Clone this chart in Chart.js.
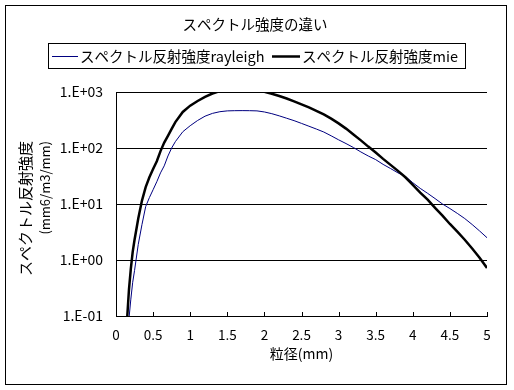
<!DOCTYPE html>
<html>
<head>
<meta charset="utf-8">
<script src="https://cdn.jsdelivr.net/npm/chart.js@4.4.0/dist/chart.umd.min.js"></script>
<style>
  html, body { margin: 0; padding: 0; background: #fff; }
  #wrap { width: 514px; height: 390px; }
</style>
</head>
<body>
<div id="wrap"><canvas id="chart" width="514" height="390"></canvas></div>
<script>
// --- datos ---
const chartTitle = 'スペクトル強度の違い';
const seriesNames = ['スペクトル反射強度rayleigh', 'スペクトル反射強度mie'];
const xTitle = '粒径(mm)';
const yTitle = ['スペクトル反射強度', '(mm6/m3/mm)'];

const diameters = [0.15, 0.175, 0.2, 0.225, 0.25, 0.3, 0.35, 0.4, 0.45, 0.5, 0.55, 0.6, 0.65, 0.7, 0.75, 0.8, 0.9,
  1.0, 1.1, 1.2, 1.3, 1.4, 1.5, 1.6, 1.7, 1.8, 1.9, 2.0, 2.1, 2.2, 2.3, 2.4, 2.5, 2.6, 2.7, 2.8, 2.9,
  3.0, 3.1, 3.2, 3.3, 3.4, 3.5, 3.6, 3.7, 3.8, 3.9, 4.0, 4.1, 4.2, 4.3, 4.4, 4.5, 4.6, 4.7, 4.8, 4.9, 5.0];

const rayleigh = [0.03, 0.09, 0.2, 0.4, 0.65, 1.9, 4.3, 9, 13, 18, 25, 36, 48, 72, 100, 130, 195,
  250, 310, 370, 415, 445, 460, 464, 465, 464, 460, 440, 410, 375, 340, 308, 275, 245, 218, 193, 165,
  140, 120, 102, 85, 72, 62, 51, 43, 36, 31, 24, 19, 15.5, 12.5, 10, 8.3, 6.8, 5.5, 4.3, 3.3, 2.5];

const mie = [0.09, 0.3, 0.7, 1.4, 2.3, 5.5, 11.5, 20, 30, 42, 58, 88, 125, 165, 220, 290, 440,
  570, 690, 820, 940, 1040, 1100, 1130, 1140, 1120, 1070, 1005, 930, 850, 765, 680, 600, 530, 462, 398, 335,
  275, 222, 175, 137, 106, 83, 64, 50, 39, 30, 22, 16, 12, 8.5, 6.2, 4.4, 3.2, 2.3, 1.6, 1.1, 0.72];

const xTickValues = [0, 0.5, 1, 1.5, 2, 2.5, 3, 3.5, 4, 4.5, 5];
const xTickLabels = ['0', '0.5', '1', '1.5', '2', '2.5', '3', '3.5', '4', '4.5', '5'];
const yTickValues = [0.1, 1, 10, 100, 1000];
const yTickLabels = ['1.E-01', '1.E+00', '1.E+01', '1.E+02', '1.E+03'];

const FONT = '"Noto Sans CJK JP", "Noto Sans", sans-serif';
Chart.defaults.font.family = FONT;
Chart.defaults.color = '#000';

function toPoints(values) {
  return diameters.map((d, i) => ({ x: d, y: values[i] }));
}

// marco, título, leyenda con borde, título del eje Y y marcas interiores
const decorPlugin = {
  id: 'decor',
  beforeDraw(chart) {
    const ctx = chart.ctx;
    ctx.save();
    ctx.fillStyle = '#fff';
    ctx.fillRect(0, 0, chart.width, chart.height);
    ctx.restore();
  },
  afterDraw(chart) {
    const ctx = chart.ctx;
    ctx.save();
    ctx.strokeStyle = '#000';
    ctx.lineWidth = 1;
    ctx.strokeRect(5.5, 5.5, 501, 379);

    // título
    ctx.fillStyle = '#000';
    ctx.font = '14.5px ' + FONT;
    ctx.textAlign = 'center';
    ctx.textBaseline = 'middle';
    ctx.fillText(chartTitle, 255, 24);

    // leyenda
    ctx.strokeRect(48.5, 43.5, 417, 25);
    ctx.textAlign = 'left';
    const items = [{ x0: 52, x1: 78, tx: 80 }, { x0: 272, x1: 300, tx: 302 }];
    chart.data.datasets.forEach((ds, i) => {
      const it = items[i];
      ctx.beginPath();
      ctx.strokeStyle = ds.borderColor;
      ctx.lineWidth = ds.borderWidth;
      ctx.moveTo(it.x0, 56.5);
      ctx.lineTo(it.x1, 56.5);
      ctx.stroke();
      ctx.fillText(ds.label, it.tx, 56);
    });

    // título eje Y (alineado arriba, como en Excel)
    ctx.save();
    ctx.translate(25, 141);
    ctx.rotate(-Math.PI / 2);
    ctx.textAlign = 'right';
    ctx.font = '15px ' + FONT;
    ctx.fillText(yTitle[0], 0, 0);
    ctx.font = '13px ' + FONT;
    ctx.fillText(yTitle[1], 0, 20);
    ctx.restore();

    // marcas del eje X hacia dentro
    const xs = chart.scales.x;
    const bottom = chart.chartArea.bottom;
    ctx.strokeStyle = '#000';
    ctx.lineWidth = 1;
    ctx.beginPath();
    xTickValues.forEach(v => {
      const px = Math.round(xs.getPixelForValue(v)) + 0.5;
      ctx.moveTo(px, bottom);
      ctx.lineTo(px, bottom - 4);
    });
    ctx.stroke();
    ctx.restore();
  }
};

new Chart(document.getElementById('chart'), {
  type: 'scatter',
  data: {
    datasets: [
      {
        label: seriesNames[0],
        data: toPoints(rayleigh),
        showLine: true,
        borderColor: '#000080',
        borderWidth: 1,
        pointRadius: 0,
        tension: 0,
        order: 1
      },
      {
        label: seriesNames[1],
        data: toPoints(mie),
        showLine: true,
        borderColor: '#000000',
        borderWidth: 2.5,
        pointRadius: 0,
        tension: 0,
        order: 0
      }
    ]
  },
  options: {
    responsive: false,
    animation: false,
    layout: { padding: { left: 0, top: 92, right: 27, bottom: 0 } },
    plugins: {
      legend: { display: false },
      title: { display: false },
      tooltip: { enabled: false }
    },
    scales: {
      x: {
        type: 'linear',
        min: 0,
        max: 5,
        afterFit(scale) { scale.height = 74; },
        afterBuildTicks(scale) { scale.ticks = xTickValues.map(v => ({ value: v })); },
        ticks: {
          callback: (v, i) => xTickLabels[i],
          padding: 11,
          maxRotation: 0,
          autoSkip: false,
          font: { size: 13.5 }
        },
        grid: { display: false, drawTicks: false },
        border: { display: true, color: '#000', width: 1 },
        title: {
          display: true,
          text: xTitle,
          font: { size: 14 },
          padding: { top: 0, bottom: 28 }
        }
      },
      y: {
        type: 'logarithmic',
        min: 0.1,
        max: 1000,
        afterFit(scale) { scale.width = 116; },
        afterBuildTicks(scale) { scale.ticks = yTickValues.map(v => ({ value: v, major: true })); },
        ticks: {
          callback: (v, i) => yTickLabels[i],
          padding: 13,
          font: { size: 14 }
        },
        grid: { color: '#000', lineWidth: 1, drawTicks: false },
        border: { display: true, color: '#000', width: 1 }
      }
    }
  },
  plugins: [decorPlugin]
});
</script>
</body>
</html>
